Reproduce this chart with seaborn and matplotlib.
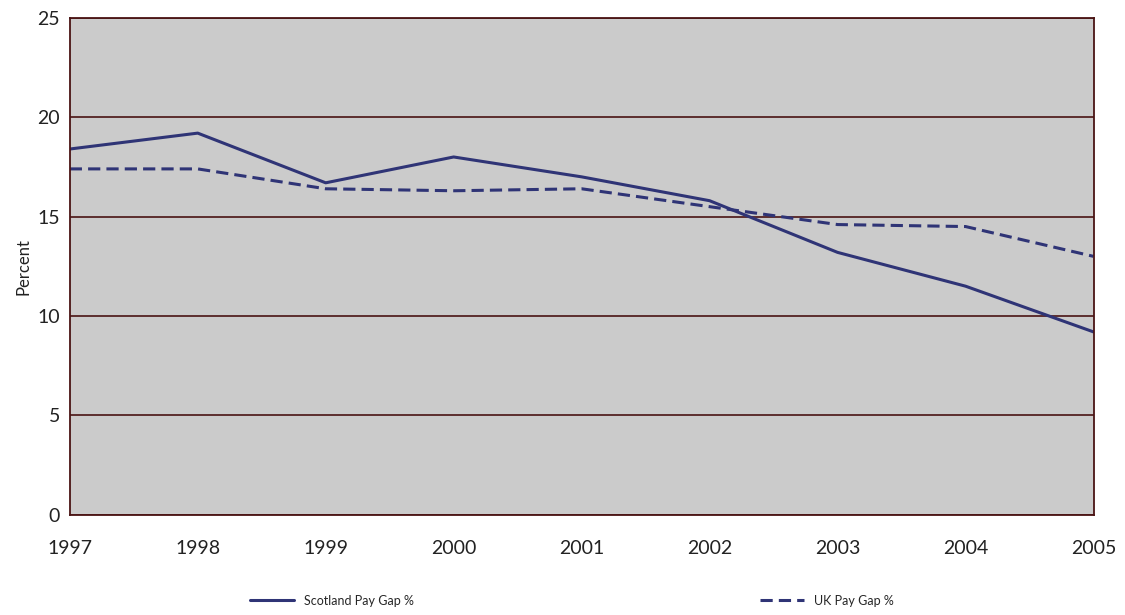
import numpy as np
import pandas as pd
import matplotlib.pyplot as plt
import seaborn as sns

# ─── Datos ──────────────────────────────────────────────────────────────────
years = [1997, 1998, 1999, 2000, 2001, 2002, 2003, 2004, 2005]
scotland_gap = [18.4, 19.2, 16.7, 18.0, 17.0, 15.8, 13.2, 11.5, 9.2]
uk_gap = [17.4, 17.4, 16.4, 16.3, 16.4, 15.5, 14.6, 14.5, 13.0]
series_names = ['Scotland Pay Gap %', 'UK Pay Gap %']

LINE_COLOR = '#2f3476'
FRAME_COLOR = '#4a1414'
BG_COLOR = '#cbcbcb'

df = pd.DataFrame({'year': years * 2,
                   'gap': scotland_gap + uk_gap,
                   'serie': [series_names[0]] * len(years) + [series_names[1]] * len(years)})

sns.set_style('white')
plt.rcParams['font.family'] = ['Lato', 'DejaVu Sans']

fig = plt.figure(figsize=(11.25, 6.15), dpi=100)
ax = fig.add_axes([0.062, 0.163, 0.910, 0.808])
ax.set_facecolor(BG_COLOR)

sns.lineplot(data=df, x='year', y='gap', hue='serie', style='serie',
             palette=[LINE_COLOR, LINE_COLOR], dashes=[(None, None), (4, 2)],
             linewidth=2.2, ax=ax, legend=False)

ax.set_xlim(1997, 2005)
ax.set_ylim(0, 25)
ax.set_xticks(years)
ax.set_yticks([0, 5, 10, 15, 20, 25])
ax.set_xlabel('')
ax.set_ylabel('Percent', fontsize=12, color='#222222')
ax.yaxis.grid(True, color=FRAME_COLOR, linewidth=1.2)
ax.set_axisbelow(True)
for s in ax.spines.values():
    s.set_color(FRAME_COLOR)
    s.set_linewidth(1.3)
ax.tick_params(axis='y', direction='out', length=5, color=FRAME_COLOR,
               labelsize=14, labelcolor='#222222', pad=2)
ax.tick_params(axis='x', direction='inout', length=8, color=FRAME_COLOR,
               labelsize=14, labelcolor='#222222', pad=14)

# Leyenda inferior
h1, = ax.plot([], [], color=LINE_COLOR, linewidth=2.2)
h2, = ax.plot([], [], color=LINE_COLOR, linewidth=2.2, dashes=(4, 2))
fig.legend([h1], [series_names[0]], loc='center', bbox_to_anchor=(0.295, 0.023),
           frameon=False, fontsize=9, handlelength=3.5)
fig.legend([h2], [series_names[1]], loc='center', bbox_to_anchor=(0.735, 0.023),
           frameon=False, fontsize=9, handlelength=3.5)

plt.savefig('out.png', dpi=100)
